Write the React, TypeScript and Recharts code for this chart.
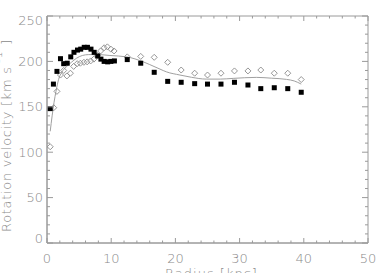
import React from 'react';
import { ComposedChart, XAxis, YAxis, Scatter, Line, ReferenceArea } from 'recharts';

// ---- data ----
const squareRadius = [0.5, 1.0, 1.55, 2.1, 2.6, 3.15, 3.7, 4.2, 4.75, 5.25, 5.8, 6.3, 6.85, 7.35, 7.9, 8.4, 8.9, 9.45, 9.95, 10.5, 12.5, 14.6, 16.7, 18.8, 20.9, 23.0, 25.0, 27.1, 29.2, 31.3, 33.3, 35.4, 37.5, 39.6];
const squareVel = [148, 175, 189, 203, 197.5, 198, 205, 210, 212.5, 213.5, 215.5, 215.5, 213.5, 210, 206, 202.5, 200, 199.5, 200, 200.5, 202, 198, 188, 178, 177, 175.5, 175, 175, 177, 174, 170, 171, 170, 166];

const diamondRadius = [0.5, 1.05, 1.55, 2.1, 2.6, 3.1, 3.65, 4.15, 4.7, 5.2, 5.75, 6.25, 6.8, 7.3, 7.85, 8.35, 8.9, 9.4, 9.95, 10.45, 12.5, 14.6, 16.7, 18.8, 20.9, 23.0, 25.0, 27.1, 29.2, 31.3, 33.3, 35.4, 37.5, 39.6];
const diamondVel = [106, 149, 167, 185, 190, 184, 187, 194.5, 197.5, 198, 199, 199.5, 200.5, 202.5, 206.5, 211.5, 215, 216, 213.5, 211.5, 205, 205.5, 204.5, 199, 190.5, 187, 185, 187, 189.5, 189.5, 190.5, 187, 187, 180];

const modelRadius = [0.5, 0.8, 1.1, 1.4, 1.8, 2.3, 3.0, 3.8, 4.6, 5.5, 6.5, 8.0, 9.8, 12.4, 15.0, 16.0, 17.6, 18.6, 20.7, 22.5, 24.8, 27.0, 29.0, 32.6, 35.0, 37.3, 38.5, 39.6];
const modelVel = [123, 140, 155, 167, 180, 188, 194, 199, 203.5, 206.5, 207.5, 207.5, 206.5, 205, 199.5, 196.5, 191.5, 188.5, 185, 182.5, 180.5, 180.5, 181.3, 182.4, 181.5, 180.2, 178.5, 175];

const xTicks = [0, 10, 20, 30, 40, 50];
const yTicks = [0, 50, 100, 150, 200, 250];
const xTitle = 'Radius [kpc]';
const yTitle = 'Rotation velocity [km s';
const yTitleSup = '-1';

const squares = squareRadius.map((r, i) => ({ r, v: squareVel[i] }));
const diamonds = diamondRadius.map((r, i) => ({ r, v: diamondVel[i] }));
const model = modelRadius.map((r, i) => ({ r, v: modelVel[i] }));

const xAll: number[] = [];
for (let t = 0; t <= 50; t += 2) xAll.push(t);
const yAll: number[] = [];
for (let t = 0; t <= 250; t += 10) yAll.push(t);

// ---- layout ----
const W = 382;
const H = 273;
const M = { top: 16, right: 14, bottom: 0, left: 7 };
const YW = 40;
const XH = 30;
const PL = M.left + YW;
const PR = W - M.right;
const PT = M.top;
const PB = H - M.bottom - XH;

const AX = '#9a9a9a';
const TXT = '#8a8a8a';
const FONT = '"DejaVu Sans", sans-serif';

const XTick = (props: any) => {
  const { x, payload } = props;
  const major = xTicks.includes(payload.value);
  const len = major ? 5 : 2.5;
  return (
    <g>
      <line x1={x} x2={x} y1={PB} y2={PB - len} stroke={AX} strokeWidth={1} />
      <line x1={x} x2={x} y1={PT} y2={PT + len} stroke={AX} strokeWidth={1} />
      {major && (
        <text x={x} y={PB + 19.5} textAnchor="middle" fill={TXT} fontSize={13} fontFamily={FONT} fontWeight={200}>
          {payload.value}
        </text>
      )}
    </g>
  );
};

const YTick = (props: any) => {
  const { y, payload } = props;
  const major = yTicks.includes(payload.value);
  const len = major ? 6 : 3;
  let shift = 0;
  if (payload.value === 250) shift = 4.5;
  if (payload.value === 0) shift = -5;
  return (
    <g>
      <line x1={PL} x2={PL + len} y1={y} y2={y} stroke={AX} strokeWidth={1} />
      <line x1={PR} x2={PR - len} y1={y} y2={y} stroke={AX} strokeWidth={1} />
      {major && (
        <text x={43} y={y + shift + 4.6} textAnchor="end" fill={TXT} fontSize={13} fontFamily={FONT} fontWeight={200}>
          {payload.value}
        </text>
      )}
    </g>
  );
};

const SquareShape = (props: any) => {
  const { cx, cy } = props;
  if (cx == null || cy == null) return null;
  return <rect x={cx - 2.5} y={cy - 2.5} width={5} height={5} fill="#000" />;
};

const DiamondShape = (props: any) => {
  const { cx, cy } = props;
  if (cx == null || cy == null) return null;
  const s = 3;
  return (
    <path
      d={`M${cx},${cy - s}L${cx + s},${cy}L${cx},${cy + s}L${cx - s},${cy}Z`}
      fill="none"
      stroke="#8a8a8a"
      strokeWidth={0.9}
    />
  );
};

export default function App() {
  return (
    <div style={{ position: 'absolute', left: 0, top: 0, width: W, height: H, background: '#fff' }}>
      <ComposedChart width={W} height={H} margin={M}>
        <XAxis
          type="number"
          dataKey="r"
          domain={[0, 50]}
          ticks={xAll}
          interval={0}
          height={XH}
          tick={<XTick />}
          tickLine={false}
          axisLine={{ stroke: AX }}
          allowDataOverflow
        />
        <YAxis
          type="number"
          dataKey="v"
          domain={[0, 250]}
          ticks={yAll}
          interval={0}
          width={YW}
          tick={<YTick />}
          tickLine={false}
          axisLine={{ stroke: AX }}
          allowDataOverflow
        />
        <ReferenceArea x1={0} x2={50} y1={0} y2={250} fill="none" stroke={AX} strokeWidth={1} ifOverflow="visible" />
        <Line
          data={model}
          dataKey="v"
          type="monotone"
          stroke="#a0a0a0"
          strokeWidth={1}
          dot={false}
          activeDot={false}
          isAnimationActive={false}
        />
        <Scatter data={diamonds} dataKey="v" shape={<DiamondShape />} isAnimationActive={false} />
        <Scatter data={squares} dataKey="v" shape={<SquareShape />} isAnimationActive={false} />
      </ComposedChart>
      <svg width={W} height={H} style={{ position: 'absolute', left: 0, top: 0, pointerEvents: 'none' }}>
        <text x={(PL + PR) / 2 + 4} y={277.5} textAnchor="middle" fill={TXT} fontSize={13} fontFamily={FONT} fontWeight={200} letterSpacing={1}>
          {xTitle}
        </text>
        <text
          x={10.5}
          y={232}
          transform={`rotate(-90, 10.5, 232)`}
          textAnchor="start"
          fill={TXT}
          fontSize={13}
          fontFamily={FONT}
          fontWeight={200}
          letterSpacing={0.7}
        >
          {yTitle}
          <tspan dy={-9} dx={3} fontSize={11}>{yTitleSup}</tspan>
          <tspan dy={9} dx={6}>]</tspan>
        </text>
      </svg>
    </div>
  );
}
